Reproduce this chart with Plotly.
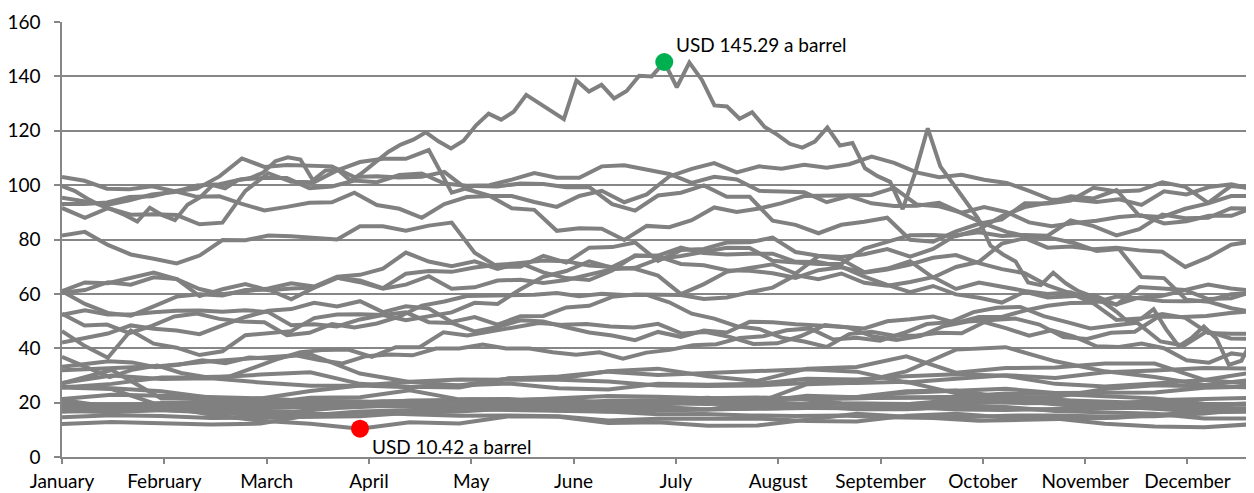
import numpy as np
import plotly.graph_objects as go

# ---- axis labels ----
months = ["January", "February", "March", "April", "May", "June", "July",
          "August", "September", "October", "November", "December"]
y_ticks = [0, 20, 40, 60, 80, 100, 120, 140, 160]

# ---- WTI price paths, one list per year (sampled, USD per barrel) ----
# semi-monthly samples
y1986 = [25.6, 25.0, 18.8, 15.5, 13.3, 12.2, 10.42, 12.8, 12.3, 15.0, 14.8, 12.5, 12.8,
         11.5, 11.6, 13.8, 15.9, 14.8, 14.5, 15.2, 15.3, 14.9, 15.0, 16.0, 17.9]
y1987 = [18.1, 18.7, 18.5, 18.2, 17.0, 16.6, 18.0, 18.8, 18.6, 18.7, 19.1, 19.5, 19.6,
         20.3, 20.6, 21.2, 21.5, 19.8, 19.7, 19.4, 19.9, 20.3, 18.9, 18.6, 17.6, 16.5, 16.7]
y1988 = [16.6, 17.2, 17.3, 17.0, 16.5, 16.0, 15.7, 16.8, 17.5, 17.5, 17.3, 16.9, 16.6,
         15.7, 15.8, 15.3, 15.1, 15.3, 14.6, 14.3, 13.3, 13.7, 14.0, 14.4, 15.6, 16.6, 17.2]
y1989 = [17.2, 17.5, 18.2, 17.9, 17.7, 18.3, 19.5, 20.5, 20.6, 21.2, 20.2, 19.8, 20.1,
         20.1, 19.8, 19.0, 18.5, 18.2, 19.3, 19.7, 20.5, 19.8, 20.0, 19.7, 21.0, 21.5, 21.8]
y1990 = [21.3, 22.9, 22.5, 22.0, 21.6, 20.6, 20.3, 18.7, 18.3, 18.6, 17.4, 16.7, 17.1,
         17.5, 20.0, 26.8, 27.3, 31.5, 39.5, 40.4, 35.2, 31.5, 29.4, 26.5, 28.4]
y1991 = [27.1, 32.0, 21.5, 21.5, 19.0, 19.9, 19.6, 20.8, 21.0, 21.0, 21.2, 20.0, 20.3,
         21.5, 21.6, 21.3, 21.7, 21.9, 22.2, 23.4, 23.2, 22.3, 21.5, 19.6, 19.1]
y1992 = [19.1, 18.8, 18.9, 19.5, 19.4, 18.6, 19.4, 19.7, 20.4, 20.8, 21.6, 22.4, 22.2,
         21.6, 21.9, 21.3, 21.6, 21.9, 21.6, 21.7, 21.0, 20.3, 19.8, 19.4, 19.5]
y1993 = [19.5, 19.0, 19.9, 20.1, 20.2, 20.1, 20.4, 20.4, 20.1, 20.2, 19.8, 18.7, 18.5,
         17.5, 17.8, 18.2, 18.2, 17.7, 18.6, 18.4, 16.9, 16.4, 15.9, 14.2, 14.2]
y1994 = [14.6, 15.4, 15.1, 14.3, 14.5, 14.8, 15.0, 16.3, 16.7, 17.8, 18.1, 18.4, 19.5,
         20.2, 19.5, 18.8, 17.6, 17.6, 18.4, 17.9, 17.3, 18.0, 18.1, 17.3, 17.8]
y1995 = [17.5, 18.1, 18.4, 18.6, 18.5, 18.2, 19.2, 20.4, 20.2, 19.7, 18.8, 17.8, 17.3,
         17.6, 17.8, 18.0, 17.9, 18.4, 17.5, 17.3, 17.7, 18.2, 18.6, 19.0, 19.6]
y1996 = [19.9, 18.5, 17.9, 19.0, 19.7, 21.8, 22.0, 24.5, 21.2, 21.3, 19.8, 20.7, 21.0,
         21.8, 20.4, 22.5, 22.0, 23.6, 24.4, 25.1, 23.5, 23.6, 23.7, 25.5, 25.9]
y1997 = [25.9, 25.3, 24.2, 21.8, 20.5, 20.7, 20.4, 19.7, 20.0, 20.8, 21.0, 19.1, 19.8,
         19.5, 20.2, 19.6, 19.6, 19.4, 21.0, 21.3, 20.8, 20.0, 19.0, 18.4, 17.6]
y1998 = [17.0, 16.5, 17.3, 16.2, 15.4, 15.0, 16.5, 15.7, 15.2, 15.3, 15.0, 13.4, 14.1,
         14.1, 14.2, 13.2, 13.1, 15.2, 15.9, 14.5, 14.2, 12.2, 11.2, 10.9, 12.1]
y1999 = [12.1, 12.9, 12.4, 12.0, 12.3, 15.4, 16.7, 17.2, 18.3, 18.2, 17.1, 18.1, 19.4,
         20.4, 20.5, 22.1, 22.1, 24.2, 24.5, 21.9, 22.1, 25.0, 26.4, 26.0, 25.6]
y2000 = [25.6, 26.9, 29.2, 29.2, 30.3, 31.2, 26.9, 25.8, 25.6, 29.0, 28.8, 31.5, 32.5,
         29.7, 28.0, 32.5, 33.1, 37.0, 31.0, 32.7, 32.9, 34.4, 34.4, 28.4, 26.8]
y2001 = [27.2, 30.0, 28.7, 29.0, 27.4, 26.2, 26.3, 27.7, 28.5, 28.3, 28.4, 27.8, 26.3,
         26.1, 26.3, 27.2, 27.2, 27.7, 23.4, 22.4, 21.2, 19.2, 19.4, 19.0, 19.8]
y2002 = [21.0, 18.4, 19.6, 20.6, 21.5, 24.3, 26.3, 25.7, 26.5, 27.0, 25.3, 24.8, 26.9,
         26.6, 26.9, 28.8, 28.5, 29.7, 30.4, 29.9, 26.9, 25.9, 27.0, 28.3, 31.2]
y2003 = [31.9, 32.6, 33.5, 35.2, 36.6, 37.8, 30.7, 27.6, 26.3, 28.9, 29.6, 31.4, 30.2,
         30.8, 31.5, 32.3, 31.4, 27.4, 28.8, 30.1, 29.1, 31.2, 31.8, 32.7, 32.5]
# weekly samples
y2004 = [33.2, 34.3, 35.2, 34.8, 33.0, 33.9, 35.6, 34.5, 36.6, 36.2, 37.4, 35.7, 34.4,
         37.1, 37.7, 37.4, 39.9, 39.9, 41.4, 39.9, 39.9, 38.5, 37.6, 38.5, 36.2, 38.4,
         39.4, 41.1, 41.5, 43.8, 44.4, 46.6, 47.3, 43.2, 43.9, 42.8, 45.6, 48.9, 49.6,
         53.3, 54.9, 55.2, 51.8, 49.6, 47.3, 48.4, 49.4, 42.5, 41.0, 46.3, 43.6, 43.5]
y2005 = [42.1, 43.9, 45.4, 48.4, 47.2, 46.5, 45.2, 48.4, 51.5, 53.8, 54.4, 56.7, 55.4,
         57.3, 53.3, 55.4, 54.6, 49.7, 51.5, 48.7, 51.8, 51.9, 55.0, 55.6, 58.9, 59.8,
         59.6, 59.6, 58.1, 58.7, 60.6, 62.3, 66.9, 65.4, 67.5, 64.1, 63.0, 64.4, 66.2,
         61.8, 64.2, 62.6, 61.1, 60.0, 60.6, 57.5, 56.1, 58.7, 59.3, 61.4, 58.1, 58.4, 61.0]
y2006 = [61.0, 64.2, 63.9, 66.0, 67.8, 65.4, 61.8, 59.9, 61.1, 62.0, 63.9, 62.7, 66.3,
         67.0, 69.3, 75.2, 71.9, 70.2, 72.0, 69.2, 71.4, 72.3, 72.0, 70.4, 69.9, 73.9,
         74.1, 77.0, 75.0, 74.5, 74.8, 74.8, 71.8, 71.7, 70.0, 66.3, 63.3, 60.6, 62.9,
         59.8, 58.6, 56.8, 60.8, 58.7, 59.1, 59.6, 56.0, 62.5, 62.0, 61.4, 63.4, 62.0, 61.1]
y2007 = [61.0, 56.3, 53.0, 52.0, 55.4, 59.0, 59.9, 59.4, 61.4, 61.6, 58.0, 62.3, 65.9,
         64.3, 61.9, 63.4, 66.5, 61.9, 62.4, 64.9, 65.2, 64.0, 65.1, 67.0, 69.1, 69.6,
         72.8, 73.9, 75.6, 77.0, 76.9, 72.2, 71.5, 71.0, 71.1, 76.7, 79.1, 81.6, 81.7,
         81.2, 83.7, 88.6, 91.9, 93.5, 95.9, 95.1, 98.2, 88.7, 88.3, 91.3, 93.3, 96.0, 96.0]
# 2008: eight samples per month
y2008 = [99.6, 97.9, 95.1, 92.7, 91.0, 89.0, 86.6, 91.7,
         88.96, 87.1, 92.8, 95.5, 100.0, 98.8, 101.8, 102.6,
         104.5, 108.8, 110.2, 109.4, 101.8, 105.4, 105.6, 101.6,
         104.8, 108.5, 112.2, 114.9, 116.7, 119.4, 116.1, 113.5,
         116.3, 122.0, 126.3, 124.1, 127.0, 133.2, 130.3, 127.4,
         124.3, 138.5, 134.4, 136.9, 131.9, 134.6, 140.2, 140.0,
         145.29, 136.0, 145.1, 138.7, 129.3, 128.9, 124.4, 126.8,
         121.4, 118.6, 115.2, 113.8, 116.0, 121.2, 114.6, 115.5,
         106.2, 103.3, 101.2, 91.2, 104.6, 120.9, 106.9, 100.6,
         93.9, 87.8, 77.7, 74.5, 71.9, 64.2, 63.2, 67.8,
         63.9, 61.0, 59.3, 57.0, 53.6, 49.6, 50.8, 54.4,
         46.96, 40.8, 43.7, 47.98, 43.6, 33.9, 35.4, 44.6]
y2009 = [46.3, 40.8, 36.5, 46.5, 41.7, 40.2, 37.5, 38.9, 44.8, 45.5, 46.3, 51.1, 52.4,
         52.5, 52.2, 50.3, 51.6, 53.2, 56.7, 56.3, 61.7, 66.3, 68.4, 72.0, 69.6, 69.2,
         66.7, 59.9, 63.6, 68.1, 69.5, 70.9, 67.5, 73.9, 72.7, 68.0, 69.3, 72.0, 66.0,
         69.9, 71.8, 78.5, 80.5, 77.0, 77.4, 76.4, 77.0, 76.0, 75.5, 69.9, 73.4, 78.1, 79.4]
y2010 = [81.5, 82.8, 78.0, 74.5, 72.9, 71.2, 74.1, 79.8, 79.7, 81.5, 81.2, 80.7, 80.0,
         84.9, 84.9, 83.2, 85.1, 86.2, 75.1, 70.0, 70.0, 74.0, 71.5, 77.0, 77.2, 78.9,
         72.1, 76.1, 76.5, 78.9, 78.95, 80.7, 75.4, 74.0, 73.6, 74.6, 76.5, 73.7, 76.5,
         81.6, 82.7, 81.3, 81.7, 81.4, 87.0, 84.9, 81.5, 83.8, 89.2, 87.8, 88.0, 91.5, 91.4]
y2011 = [91.6, 88.0, 91.5, 89.1, 89.3, 89.0, 85.6, 86.2, 97.9, 104.4, 101.2, 101.1, 105.4,
         108.5, 109.7, 109.7, 112.9, 97.2, 99.7, 99.5, 100.6, 100.4, 99.2, 99.3, 93.0,
         90.6, 96.2, 97.2, 99.9, 95.7, 95.7, 86.9, 85.4, 82.3, 85.4, 86.5, 88.0, 79.9,
         79.2, 83.0, 85.8, 87.4, 93.3, 93.2, 94.3, 99.0, 97.7, 98.0, 101.0, 99.4, 93.5,
         99.7, 98.8]
y2012 = [103.0, 101.6, 98.7, 98.5, 99.6, 97.8, 98.7, 103.2, 109.8, 106.7, 107.4, 107.1,
         106.9, 103.0, 103.3, 102.8, 103.1, 104.9, 98.5, 96.1, 91.5, 90.9, 83.2, 84.1,
         84.0, 79.8, 85.0, 84.5, 87.1, 91.8, 90.1, 91.4, 93.4, 96.0, 96.2, 96.5, 96.4,
         99.0, 92.9, 92.2, 89.9, 91.9, 90.1, 86.3, 84.9, 86.1, 86.9, 88.3, 88.9, 85.9,
         86.7, 88.7, 88.7, 91.8]
y2013 = [93.1, 93.1, 93.6, 95.6, 95.9, 97.8, 95.7, 95.9, 93.1, 90.7, 92.0, 93.5, 93.7,
         97.2, 92.7, 91.3, 88.0, 93.0, 95.6, 96.0, 96.0, 93.8, 92.0, 96.0, 97.9, 93.7,
         96.6, 103.2, 106.0, 108.1, 104.7, 106.9, 106.0, 107.5, 106.4, 107.7, 110.5,
         108.2, 104.7, 102.9, 103.8, 102.0, 100.8, 97.9, 94.6, 94.6, 93.8, 94.8, 92.7,
         97.7, 96.6, 99.3, 100.3, 98.4]
y2014 = [95.4, 94.0, 92.7, 94.4, 96.6, 97.5, 99.9, 100.3, 102.2, 102.6, 102.6, 98.9,
         99.5, 101.7, 101.1, 103.7, 104.3, 100.6, 99.8, 100.0, 102.0, 104.4, 102.7,
         102.7, 106.9, 107.3, 105.7, 104.1, 100.8, 103.1, 102.1, 97.9, 97.7, 97.4, 93.7,
         96.0, 93.3, 92.3, 92.4, 93.5, 89.7, 85.8, 82.8, 81.0, 80.5, 78.7, 75.8, 76.5,
         66.2, 65.8, 57.8, 57.1, 54.7, 53.3]
y2015 = [52.7, 48.4, 48.7, 45.6, 48.2, 51.7, 52.8, 50.8, 49.8, 49.6, 44.8, 45.7, 48.9,
         47.6, 49.1, 51.6, 55.7, 57.2, 59.2, 59.4, 59.7, 59.7, 60.3, 59.1, 60.0, 59.6,
         59.6, 56.9, 52.7, 50.9, 48.1, 47.1, 43.9, 42.5, 40.5, 45.2, 46.1, 44.6, 44.7,
         45.7, 45.5, 49.6, 47.3, 44.6, 46.6, 44.3, 40.7, 40.5, 41.7, 40.0, 35.6, 34.7,
         38.1, 37.0]
y2016 = [36.8, 33.2, 29.4, 32.2, 33.6, 30.9, 29.4, 29.6, 32.8, 35.9, 38.5, 39.4, 39.5,
         36.8, 40.4, 40.4, 45.9, 44.7, 46.2, 47.8, 49.3, 48.6, 48.9, 48.0, 47.6, 49.0,
         45.4, 46.0, 44.2, 41.6, 41.8, 44.5, 48.5, 47.6, 44.4, 43.0, 44.5, 48.2, 49.8,
         50.4, 50.9, 48.7, 44.1, 43.4, 45.7, 46.1, 51.7, 51.5, 51.9, 53.0, 53.7]
y2017 = [52.3, 54.0, 52.4, 52.4, 53.2, 53.8, 53.9, 53.4, 54.0, 53.3, 48.5, 48.8, 48.0,
         50.6, 52.2, 53.2, 49.6, 49.3, 46.2, 47.8, 50.3, 49.8, 47.7, 45.8, 44.7, 43.0,
         46.0, 44.2, 46.5, 45.8, 49.7, 49.6, 48.8, 48.5, 47.9, 47.3, 49.9, 50.7, 51.7,
         49.3, 51.5, 51.5, 53.9, 55.6, 56.6, 56.7, 59.0, 58.4, 57.4, 57.3, 57.5, 59.9, 60.4]
y2018 = [60.4, 61.4, 64.3, 63.4, 66.1, 65.5, 59.2, 61.7, 63.6, 61.3, 62.0, 62.3, 65.9,
         64.9, 62.1, 67.4, 68.4, 68.1, 69.7, 70.7, 71.3, 67.9, 65.8, 65.1, 68.6, 74.2,
         73.8, 71.0, 70.5, 68.7, 68.5, 67.6, 65.9, 68.7, 69.8, 67.8, 69.0, 70.8, 73.3,
         74.3, 71.3, 69.1, 67.6, 63.1, 60.2, 56.5, 50.4, 50.9, 52.6, 51.2, 45.6, 45.3, 45.4]

years = [y1986, y1987, y1988, y1989, y1990, y1991, y1992, y1993, y1994, y1995,
         y1996, y1997, y1998, y1999, y2000, y2001, y2002, y2003, y2004, y2005,
         y2006, y2007, y2008, y2009, y2010, y2011, y2012, y2013, y2014, y2015,
         y2016, y2017, y2018]
year_names = [str(1986 + i) for i in range(len(years))]

peak_value = 145.29
peak_label = "USD 145.29 a barrel"
trough_value = 10.42
trough_label = "USD 10.42 a barrel"

# the x axis spans a year in "month" units (ticks at each month)
X_END = 11.65

FONT = "Lato, 'Open Sans', sans-serif"
FS = 19
LINE_GREY = "#808080"
AXIS_GREY = "#868686"

fig = go.Figure()
for name, vals in zip(year_names, years):
    xs = np.linspace(0, X_END, len(vals))
    fig.add_trace(go.Scatter(x=xs, y=vals, mode="lines", name=name,
                             line=dict(color=LINE_GREY, width=4),
                             hoverinfo="skip", showlegend=False))

# peak marker (2008) and trough marker (1986)
x2008 = np.linspace(0, X_END, len(y2008))
px_ = x2008[int(np.argmax(y2008))]
x1986 = np.linspace(0, X_END, len(y1986))
tx_ = x1986[int(np.argmin(y1986))]

fig.add_trace(go.Scatter(x=[px_], y=[peak_value], mode="markers",
                         marker=dict(color="#00B050", size=18), showlegend=False))
fig.add_trace(go.Scatter(x=[tx_], y=[trough_value], mode="markers",
                         marker=dict(color="#FF0000", size=18), showlegend=False))

fig.add_annotation(x=px_, y=peak_value, text=peak_label, showarrow=False,
                   xanchor="left", yanchor="middle", xshift=10, yshift=17,
                   font=dict(family=FONT, size=FS, color="#000000"))
fig.add_annotation(x=tx_, y=trough_value, text=trough_label, showarrow=False,
                   xanchor="left", yanchor="middle", xshift=10, yshift=-18,
                   font=dict(family=FONT, size=FS, color="#000000"))

# the page has an 8px body margin, so the figure is sized/offset to compensate
fig.update_layout(
    width=1246, height=485,
    margin=dict(l=54, r=0, t=14, b=36),
    paper_bgcolor="white", plot_bgcolor="white",
    font=dict(family=FONT, size=FS, color="#000000"),
    showlegend=False,
)
fig.update_xaxes(range=[0, X_END], tickmode="array",
                 tickvals=list(range(12)), ticktext=months,
                 showgrid=False, zeroline=False, automargin=False,
                 showline=True, linecolor=AXIS_GREY, linewidth=1.5,
                 ticks="outside", ticklen=5, tickcolor=AXIS_GREY, tickwidth=1.5,
                 ticklabelstandoff=1)
fig.update_yaxes(range=[0, 160], tickmode="array", tickvals=y_ticks,
                 showgrid=True, gridcolor=AXIS_GREY, gridwidth=1.5,
                 zeroline=False, automargin=False,
                 showline=True, linecolor=AXIS_GREY, linewidth=1.5,
                 ticks="outside", ticklen=6, tickcolor=AXIS_GREY, tickwidth=1.5,
                 ticklabelstandoff=10)

fig.write_html("out.html")
